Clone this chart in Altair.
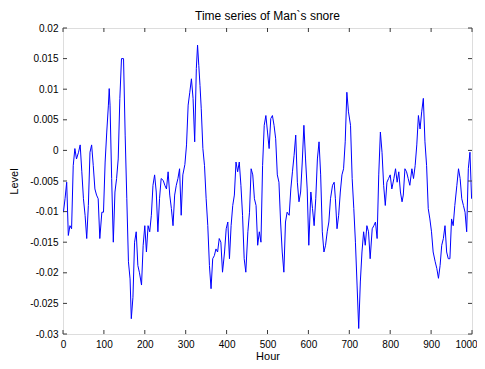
import altair as alt
import pandas as pd

hours = [1, 5, 9, 13, 17, 21, 25, 29, 33, 38, 42, 46, 50, 54, 58, 62, 66, 70, 74, 78,
         82, 86, 90, 95, 99, 103, 107, 111, 113, 115, 119, 123, 127, 131, 135, 139, 143, 148, 152, 156,
         160, 164, 167, 171, 175, 179, 183, 187, 192, 196, 200, 204, 208, 212, 216, 220, 224, 228, 232, 236,
         240, 245, 249, 253, 257, 261, 265, 269, 273, 277, 281, 285, 289, 293, 298, 302, 306, 310, 314, 318,
         322, 326, 329, 332, 335, 338, 342, 346, 350, 354, 358, 362, 366, 370, 374, 378, 382, 386, 390, 395,
         399, 403, 407, 411, 415, 419, 423, 427, 431, 435, 439, 443, 447, 452, 456, 460, 464, 468, 472, 476,
         480, 484, 488, 492, 496, 500, 504, 508, 512, 516, 520, 524, 528, 532, 536, 540, 544, 548, 553, 557,
         561, 565, 569, 573, 577, 581, 585, 589, 593, 597, 601, 606, 610, 614, 618, 622, 626, 630, 634, 638,
         642, 646, 650, 654, 659, 663, 666, 670, 674, 678, 682, 686, 690, 694, 698, 703, 707, 711, 715, 719,
         723, 727, 731, 735, 739, 743, 747, 751, 756, 760, 764, 768, 772, 776, 780, 784, 788, 792, 796, 800,
         804, 809, 813, 817, 821, 825, 829, 832, 836, 840, 844, 848, 853, 857, 861, 865, 869, 873, 877, 881,
         885, 889, 893, 897, 901, 905, 910, 914, 918, 922, 926, 930, 934, 938, 942, 946, 950, 954, 958, 963,
         967, 971, 975, 979, 983, 987, 991, 995, 999]

levels = [-0.0101, -0.0079, -0.0052, -0.0139, -0.0123, -0.0128, -0.0025, 0.0003, -0.0014, -0.0003,
          0.0009, -0.0035, -0.0079, -0.0106, -0.0144, -0.009, -0.0003, 0.0009, -0.0025, -0.0063,
          -0.0073, -0.0079, -0.0144, -0.0101, -0.0101, -0.0019, 0.003, 0.0074, 0.0101, 0.0074,
          -0.0046, -0.015, -0.0068, -0.0046, -0.0014, 0.0085, 0.015, 0.015, 0.0025, -0.0079,
          -0.0182, -0.021, -0.0275, -0.024, -0.015, -0.0133, -0.0188, -0.02, -0.022, -0.0155,
          -0.0123, -0.0166, -0.0123, -0.0133, -0.0106, -0.0057, -0.004, -0.0068, -0.0133, -0.0079,
          -0.0046, -0.0049, -0.0057, -0.0063, -0.0035, -0.0073, -0.0095, -0.0123, -0.0073, -0.0057,
          -0.0046, -0.003, -0.0106, -0.004, -0.0023, 0.0009, 0.0074, 0.0095, 0.0117, 0.0085,
          0.0014, 0.0134, 0.0172, 0.0139, 0.0106, 0.0068, 0.0003, -0.0025, -0.0079, -0.0123,
          -0.0188, -0.0226, -0.0177, -0.0172, -0.0161, -0.0166, -0.0144, -0.015, -0.0199, -0.0166,
          -0.0128, -0.0117, -0.0177, -0.0123, -0.009, -0.0073, -0.0019, -0.0035, -0.0019, -0.0057,
          -0.0106, -0.0177, -0.0199, -0.0133, -0.0101, -0.003, -0.004, -0.0079, -0.009, -0.0155,
          -0.0133, -0.015, -0.0025, 0.0041, 0.0057, 0.003, 0.0003, 0.0052, 0.0057, 0.0041,
          0.0019, -0.004, -0.0052, -0.0117, -0.0166, -0.0199, -0.0117, -0.0101, -0.0106, -0.0063,
          -0.0035, -0.0008, 0.0025, -0.0052, -0.0084, -0.0068, -0.0019, 0.0041, -0.0014, -0.0063,
          -0.0155, -0.0068, -0.0095, -0.0123, -0.0079, -0.0014, 0.0014, -0.004, -0.0133, -0.0166,
          -0.0155, -0.0133, -0.0117, -0.0079, -0.0057, -0.0052, -0.0079, -0.0128, -0.0106, -0.0068,
          -0.004, -0.003, 0.0014, 0.0095, 0.0063, 0.0041, -0.0046, -0.0095, -0.015, -0.022,
          -0.0291, -0.0215, -0.0166, -0.0133, -0.0155, -0.0123, -0.0133, -0.0177, -0.0128, -0.0123,
          -0.0117, -0.0144, -0.004, 0.003, -0.0003, -0.0057, -0.009, -0.0052, -0.0046, -0.004,
          -0.0063, -0.0046, -0.003, -0.0052, -0.0035, -0.0068, -0.0084, -0.0073, -0.003, -0.0035,
          -0.0046, -0.0057, -0.003, -0.0046, -0.0025, 0.0009, 0.0057, 0.0035, 0.0063, 0.0085,
          0.0014, -0.0025, -0.0095, -0.0112, -0.0133, -0.0166, -0.0182, -0.0193, -0.0209, -0.0188,
          -0.0155, -0.0144, -0.0123, -0.0166, -0.0177, -0.0177, -0.0112, -0.0123, -0.009, -0.0057,
          -0.003, -0.0046, -0.0079, -0.009, -0.0101, -0.0133, -0.003, -0.0003, -0.0079]

x_ticks = [0, 100, 200, 300, 400, 500, 600, 700, 800, 900, 1000]
y_ticks = [0.02, 0.015, 0.01, 0.005, 0, -0.005, -0.01, -0.015, -0.02, -0.025, -0.03]

df = pd.DataFrame({"Hour": hours, "Level": levels})
xt = pd.DataFrame({"t": x_ticks})
yt = pd.DataFrame({"t": y_ticks})

W, H = 409, 306
AX = "#3a3a3a"
FONT = "Liberation Sans"

xscale = alt.Scale(domain=[0, 1000], nice=False, zero=False)
yscale = alt.Scale(domain=[-0.03, 0.02], nice=False, zero=False)

line = alt.Chart(df).mark_line(color="#0000ff", strokeWidth=1, clip=True).encode(
    x=alt.X("Hour:Q", scale=xscale,
            axis=alt.Axis(values=x_ticks, title="Hour", grid=False, tickSize=0,
                          labelPadding=5, domain=False, labelFont=FONT, labelFontSize=10,
                          labelColor="#000000", titleFont=FONT, titleFontSize=11,
                          titleFontWeight="normal", titleColor="#000000",
                          titleY=22, titleBaseline="middle", labelFlush=False,
                          labelOverlap=False, format="d",
                          labelOffset={"condition": {"test": "datum.value == 1000", "value": -6},
                                       "value": 0})),
    y=alt.Y("Level:Q", scale=yscale,
            axis=alt.Axis(values=y_ticks, title="Level", grid=False, tickSize=0,
                          labelPadding=5, domain=False, labelFont=FONT, labelFontSize=10,
                          labelColor="#000000", titleFont=FONT, titleFontSize=11,
                          titleFontWeight="normal", titleColor="#000000",
                          titleX=-49, titleY=H / 2, titleAngle=270, titleBaseline="middle",
                          labelFlush=False, labelOverlap=False,
                          labelExpr="(datum.value < 0 ? '-' : '') + format(abs(datum.value), '~g')")),
)

tick_x_bottom = alt.Chart(xt).mark_rule(color=AX, strokeWidth=1).encode(
    x=alt.X("t:Q", scale=xscale, axis=None), y=alt.value(H), y2=alt.value(H - 4))
tick_x_top = alt.Chart(xt).mark_rule(color=AX, strokeWidth=1).encode(
    x=alt.X("t:Q", scale=xscale, axis=None), y=alt.value(0), y2=alt.value(4))
tick_y_left = alt.Chart(yt).mark_rule(color=AX, strokeWidth=1).encode(
    y=alt.Y("t:Q", scale=yscale, axis=None), x=alt.value(0), x2=alt.value(4))
tick_y_right = alt.Chart(yt).mark_rule(color=AX, strokeWidth=1).encode(
    y=alt.Y("t:Q", scale=yscale, axis=None), x=alt.value(W), x2=alt.value(W - 4))

chart = alt.layer(line, tick_x_bottom, tick_x_top, tick_y_left, tick_y_right).resolve_axis(
    x="independent", y="independent"
).properties(
    width=W, height=H,
    title=alt.TitleParams("Time series of Man`s snore", font=FONT, fontSize=12,
                          fontWeight="normal", color="#000000", offset=10, frame="group", dy=10),
    autosize=alt.AutoSizeParams(type="none"),
    padding={"left": 55, "top": 20, "right": 5, "bottom": 27},
).configure_view(stroke=AX, strokeWidth=1).configure(background="white")

chart.save("out.html", embed_options={"renderer": "svg", "actions": False})
